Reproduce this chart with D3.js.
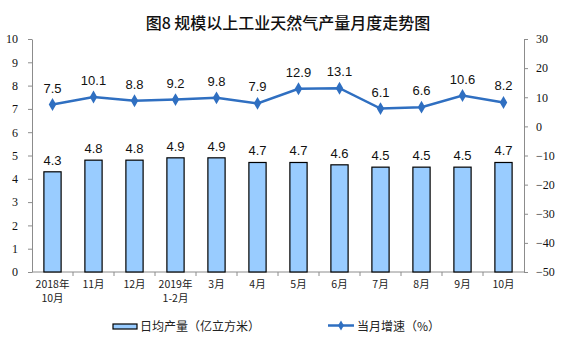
<!DOCTYPE html>
<html><head><meta charset="utf-8">
<script src="https://cdn.jsdelivr.net/npm/d3@7"></script>
<style>body{margin:0;background:#fff}</style>
</head><body>
<script>
const categories = [["2018年","10月"],["11月"],["12月"],["2019年","1-2月"],["3月"],["4月"],["5月"],["6月"],["7月"],["8月"],["9月"],["10月"]];
const output = [4.3,4.8,4.8,4.9,4.9,4.7,4.7,4.6,4.5,4.5,4.5,4.7];
const growth = [7.5,10.1,8.8,9.2,9.8,7.9,12.9,13.1,6.1,6.6,10.6,8.2];
const leftTicks = [0,1,2,3,4,5,6,7,8,9,10];
const rightTicks = [-50,-40,-30,-20,-10,0,10,20,30];
const title = "图8  规模以上工业天然气产量月度走势图";
const legendBar = "日均产量（亿立方米）";
const legendLine = "当月增速（%）";

const W=561,H=357;
const svg=d3.select("body").append("svg").attr("width",W).attr("height",H);
const x0=32,x1=524,yTop=39,yBot=272;
const x=d3.scaleBand().domain(d3.range(categories.length)).range([x0,x1]).paddingInner(0.58).paddingOuter(0.29);
const xb=d3.scaleBand().domain(d3.range(categories.length)).range([x0,x1]);
const yL=d3.scaleLinear().domain([0,10]).range([yBot,yTop]);
const yR=d3.scaleLinear().domain([-50,30]).range([yBot,yTop]);
const axisCol="#8c8c8c";
const serif="'Liberation Serif','Times New Roman',serif";
const cjk="'Noto Sans CJK SC',sans-serif";
const sans="'Liberation Sans',Arial,sans-serif";

svg.append("text").attr("x",288).attr("y",29).attr("text-anchor","middle")
  .attr("font-family",cjk).attr("font-size",16).attr("font-weight",500).attr("fill","#111").text(title);

// left axis
const gl=svg.append("g").attr("transform",`translate(${x0},0)`)
  .call(d3.axisLeft(yL).tickValues(leftTicks).tickSize(4).tickSizeOuter(0).tickPadding(10));
gl.selectAll("path,line").attr("stroke",axisCol);
gl.selectAll("text").attr("font-family",serif).attr("font-size",12).attr("fill","#111");
// right axis
const gr=svg.append("g").attr("transform",`translate(${x1},0)`)
  .call(d3.axisRight(yR).tickValues(rightTicks).tickSize(4).tickSizeOuter(0).tickPadding(8));
gr.selectAll("path,line").attr("stroke",axisCol);
gr.selectAll("text").attr("font-family",serif).attr("font-size",12).attr("fill","#111");
// x axis baseline and ticks
svg.append("line").attr("x1",x0).attr("x2",x1).attr("y1",yBot).attr("y2",yBot).attr("stroke",axisCol);
svg.selectAll("line.xt").data(d3.range(1,categories.length)).join("line").attr("class","xt")
  .attr("x1",d=>xb(d)).attr("x2",d=>xb(d)).attr("y1",yBot).attr("y2",yBot+4).attr("stroke",axisCol);
// x labels
categories.forEach((c,i)=>{
  const t=svg.append("text").attr("text-anchor","middle").attr("font-family",cjk).attr("font-size",10.5).attr("fill","#222");
  c.forEach((s,j)=>t.append("tspan").attr("x",xb(i)+xb.bandwidth()/2).attr("y",yBot+16+j*14).text(s));
});

// bars
svg.selectAll("rect.bar").data(output).join("rect").attr("class","bar")
  .attr("x",(d,i)=>x(i)).attr("width",x.bandwidth())
  .attr("y",d=>yL(d)).attr("height",d=>yBot-yL(d))
  .attr("fill","#99ccff").attr("stroke","#000").attr("stroke-width",1.2);
svg.selectAll("text.bl").data(output).join("text").attr("class","bl")
  .attr("x",(d,i)=>x(i)+x.bandwidth()/2).attr("y",d=>yL(d)-7).attr("text-anchor","middle")
  .attr("font-family",sans).attr("font-size",13).attr("fill","#111").text(d=>d.toFixed(1));

// line
const cx=i=>xb(i)+xb.bandwidth()/2;
svg.append("path").datum(growth).attr("fill","none").attr("stroke","#2f6fc1").attr("stroke-width",2.5)
  .attr("d",d3.line().x((d,i)=>cx(i)).y(d=>yR(d)));
svg.selectAll("path.mk").data(growth).join("path").attr("class","mk")
  .attr("d",d3.symbol(d3.symbolDiamond,48)).attr("transform",(d,i)=>`translate(${cx(i)},${yR(d)})`).attr("fill","#2f6fc1");
svg.selectAll("text.ll").data(growth).join("text").attr("class","ll")
  .attr("x",(d,i)=>cx(i)).attr("y",d=>yR(d)-12).attr("text-anchor","middle")
  .attr("font-family",sans).attr("font-size",13).attr("fill","#111").text(d=>d.toFixed(1));

// legend
svg.append("rect").attr("x",113).attr("y",324).attr("width",24).attr("height",5)
  .attr("fill","#99ccff").attr("stroke","#000").attr("stroke-width",1.2);
svg.append("text").attr("x",140).attr("y",331).attr("font-family",cjk).attr("font-size",12).attr("fill","#222").text(legendBar);
svg.append("line").attr("x1",328).attr("x2",354).attr("y1",325.5).attr("y2",325.5).attr("stroke","#2f6fc1").attr("stroke-width",2.5);
svg.append("path").attr("d",d3.symbol(d3.symbolDiamond,30)).attr("transform","translate(341,325.5)").attr("fill","#2f6fc1");
svg.append("text").attr("x",357).attr("y",331).attr("font-family",cjk).attr("font-size",12).attr("fill","#222").text(legendLine);
</script>
</body></html>
